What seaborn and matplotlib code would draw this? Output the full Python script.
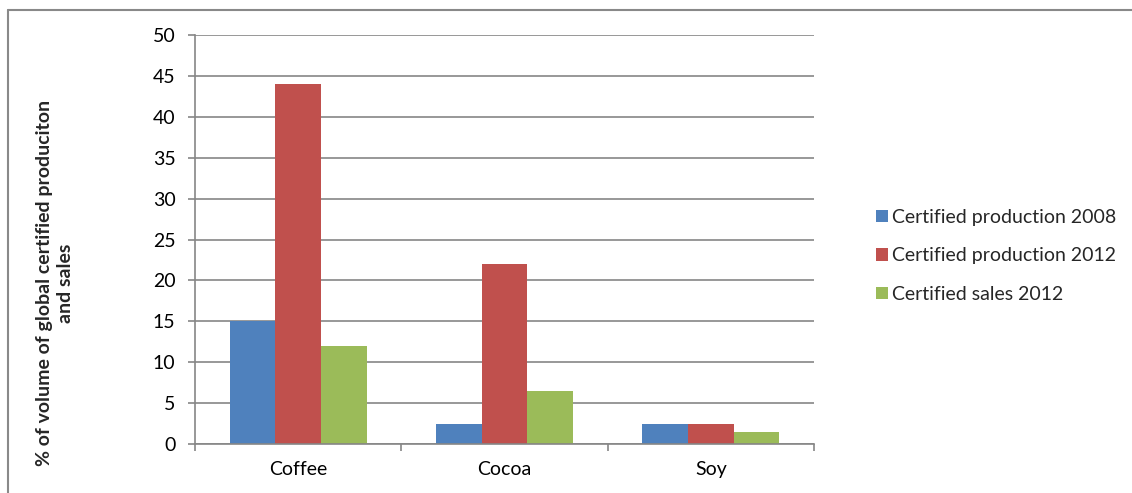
import matplotlib
matplotlib.use("Agg")
import matplotlib.pyplot as plt
from matplotlib.lines import Line2D
import pandas as pd
import seaborn as sns

categories = ["Coffee", "Cocoa", "Soy"]
series_names = ["Certified production 2008", "Certified production 2012", "Certified sales 2012"]
prod_2008 = [15, 2.5, 2.5]
prod_2012 = [44, 22, 2.5]
sales_2012 = [12, 6.5, 1.5]
colors = ["#4F81BD", "#C0504D", "#9BBB59"]
y_ticks = [0, 5, 10, 15, 20, 25, 30, 35, 40, 45, 50]
y_label = "% of volume of global certified produciton\nand sales"

rows = []
for name, vals in zip(series_names, [prod_2008, prod_2012, sales_2012]):
    for cat, v in zip(categories, vals):
        rows.append({"category": cat, "series": name, "value": v})
df = pd.DataFrame(rows)

sns.set_theme(style="white")
plt.rcParams["font.family"] = ["Lato", "DejaVu Sans"]

FS = 14
W, H = 1132, 493
fig = plt.figure(figsize=(W / 100, H / 100), dpi=100)
ax = fig.add_axes([195 / W, 1 - 444 / H, (814 - 195) / W, (444 - 35) / H])

sns.barplot(data=df, x="category", y="value", hue="series", order=categories,
            hue_order=series_names, palette=colors, width=0.663, gap=0,
            saturation=1, edgecolor="none", linewidth=0, ax=ax, legend=True)

grid_c = "#868686"
ax.set_ylim(0, 50)
ax.set_xlim(-0.5, 2.5)
ax.set_yticks(y_ticks)
ax.set_yticklabels([str(t) for t in y_ticks])
ax.yaxis.grid(True, color=grid_c, linewidth=1.2)
ax.set_axisbelow(True)
ax.set_xlabel("")
ax.set_ylabel("")
for side in ["top", "right"]:
    ax.spines[side].set_visible(False)
for side in ["left", "bottom"]:
    ax.spines[side].set_color(grid_c)
    ax.spines[side].set_linewidth(1.2)

# category labels centred between boundary ticks
ax.set_xticks([0, 1, 2])
ax.set_xticklabels(categories)
ax.tick_params(axis="x", length=0, pad=12, labelsize=FS, colors="black")
ax.set_xticks([-0.5, 0.5, 1.5, 2.5], minor=True)
ax.tick_params(axis="x", which="minor", length=5, width=1.2, color=grid_c, direction="out")
ax.tick_params(axis="y", length=5, width=1.2, color=grid_c, direction="out",
               pad=9, labelsize=FS, labelcolor="black")
ax.tick_params(axis="y", left=True)
ax.tick_params(axis="x", which="minor", bottom=True)

# legend to the right of the plot
handles, labels = ax.get_legend_handles_labels()
ax.legend(handles, labels, loc="center left", bbox_to_anchor=(876 / W, 1 - 256 / H),
          bbox_transform=fig.transFigure, frameon=False, fontsize=FS,
          handlelength=0.6, handleheight=0.6, handletextpad=0.2,
          labelspacing=1.1, borderaxespad=0, borderpad=0)

fig.text(55 / W, 1 - 283 / H, y_label, rotation=90, ha="center", va="center",
         fontsize=FS, fontweight="bold", multialignment="center", linespacing=1.25)

# chart frame: top and left edges
frame_c = "#898989"
fig.add_artist(Line2D([8 / W, 1], [1 - 10 / H, 1 - 10 / H], transform=fig.transFigure,
                      color=frame_c, linewidth=1.5))
fig.add_artist(Line2D([8 / W, 8 / W], [0, 1 - 10 / H], transform=fig.transFigure,
                      color=frame_c, linewidth=1.5))

fig.savefig("out.png", dpi=100, facecolor="white")
